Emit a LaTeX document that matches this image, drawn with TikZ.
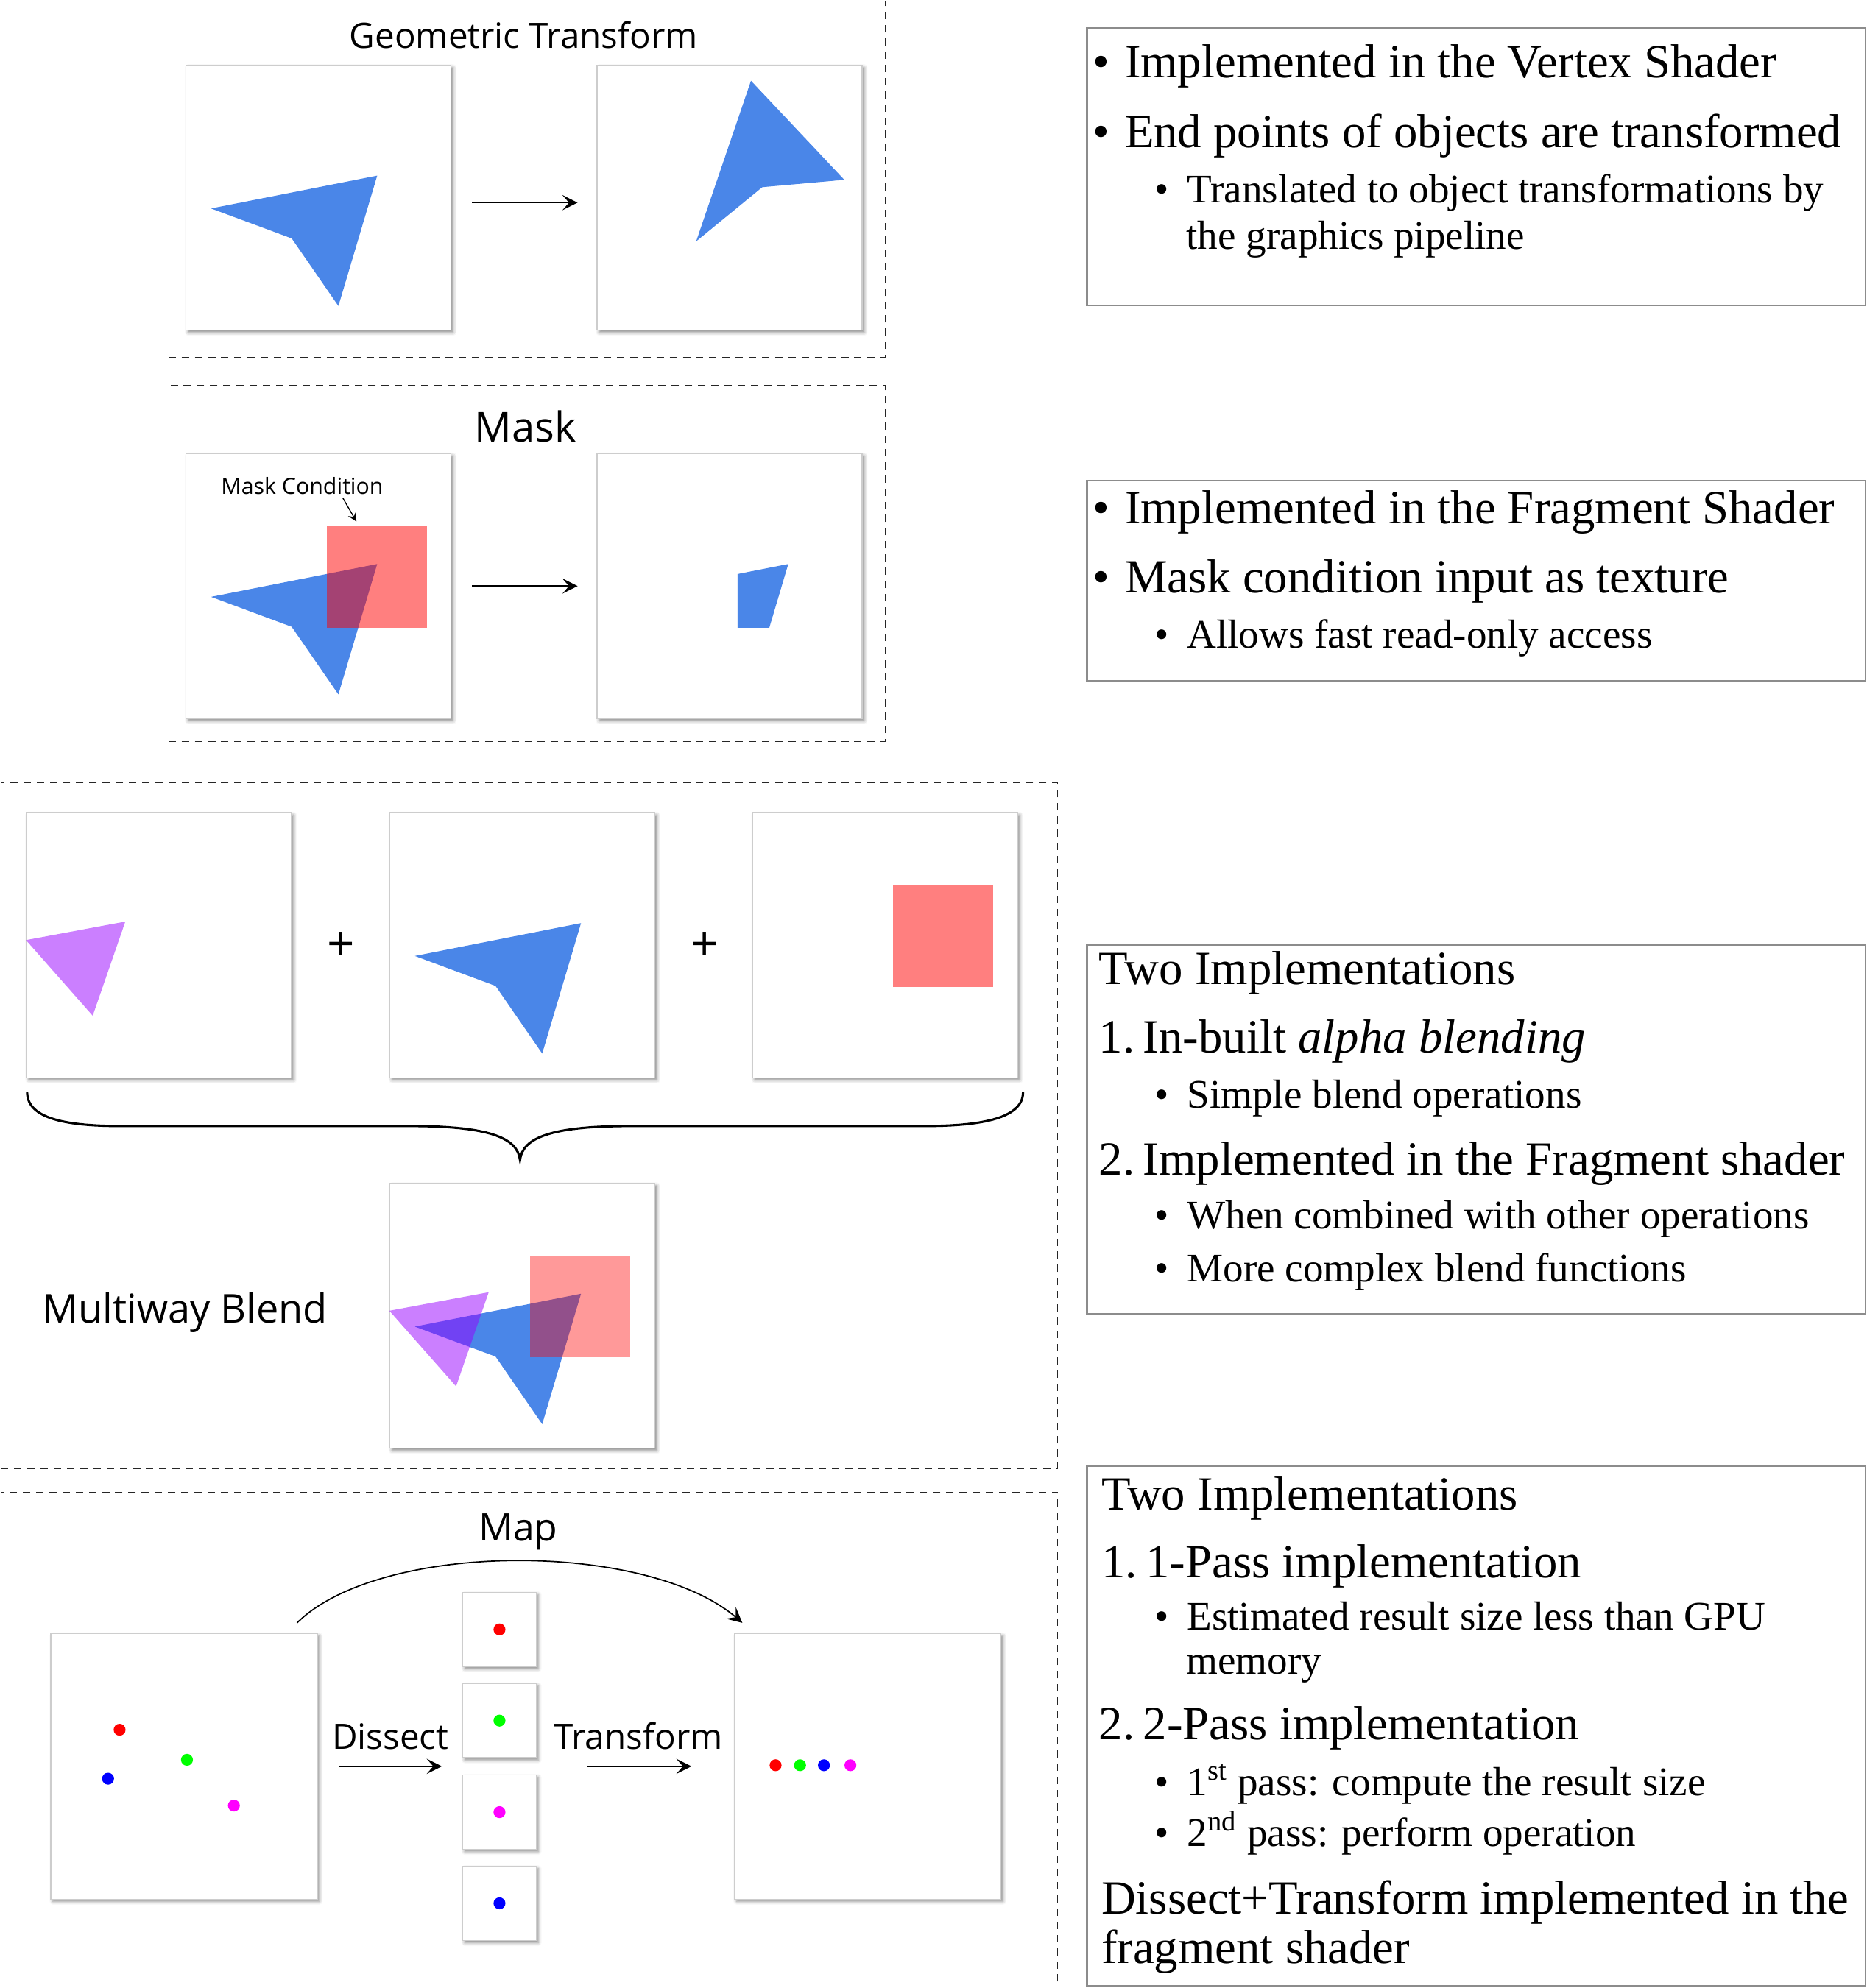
\documentclass[tikz,border=0pt]{standalone}
\usepackage{fontspec}
\setmainfont{Liberation Serif}
\newfontfamily\osans{Open Sans}
\usepackage{tikz}
\usetikzlibrary{arrows.meta,shadows.blur}

\definecolor{ptblue}{RGB}{74,134,232}
\definecolor{ptpurple}{RGB}{153,0,255}
\definecolor{boxgray}{RGB}{205,205,205}
\definecolor{dotmag}{RGB}{255,0,255}
\definecolor{dotgreen}{RGB}{0,255,0}

\newcommand{\bigbul}{\makebox[0.68em][l]{\textbullet}}
\newcommand{\smbul}{\makebox[0.8em][l]{\textbullet}}
\newcommand{\numgap}{\hspace{0.18em}}
\newcommand{\bigsz}{\fontsize{18.8}{22}\selectfont}
\newcommand{\smsz}{\fontsize{16}{19}\selectfont}

\begin{document}
\begin{tikzpicture}[x=0.5pt,y=0.5pt,yscale=-1,xscale=1,
    imgbox/.style={draw=boxgray, fill=white, line width=0.4pt, inner sep=0pt, anchor=north west,
        minimum width=104.5pt, minimum height=104.5pt,
        blur shadow={shadow xshift=0.8pt, shadow yshift=-0.9pt, shadow blur radius=1.3pt, shadow opacity=45}},
    smallbox/.style={imgbox, minimum width=29pt, minimum height=29.3pt},
    panel/.style={draw=black!85, line width=0.35pt, dash pattern=on 2.9pt off 2.3pt},
    txtbox/.style={draw=black!45, line width=0.7pt},
    arr/.style={-{Stealth[length=6pt,width=6pt,inset=2.6pt]}, line width=0.5pt},
    arrs/.style={-{Stealth[length=3.5pt,width=3.5pt,inset=1.4pt]}, line width=0.4pt},
    lbl/.style={inner sep=0pt, font=\osans\fontsize{13.8}{16}\selectfont},
    bline/.style={anchor=base west, inner sep=0pt, font=\bigsz},
    sline/.style={anchor=base west, inner sep=0pt, font=\smsz},
    pics/pointer/.style={code={\begin{scope}[yscale=-1]
        \fill[ptblue] (20.1,113.4) -- (151.1,87.5) -- (120.5,190.3) -- (83.7,137) -- cycle;
        \end{scope}}},
    pics/pointerB/.style={code={\begin{scope}[yscale=-1]
        \fill[ptblue] (121.7,12.7) -- (195.3,90.8) -- (130.6,96.6) -- (78.5,139.3) -- cycle;
        \end{scope}}},
    pics/tri/.style={code={\begin{scope}[yscale=-1]
        \fill[ptpurple, fill opacity=0.5] (0,100.9) -- (78.3,86.3) -- (52.6,160.5) -- cycle;
        \end{scope}}},
    pics/redsq/.style={code={\begin{scope}[yscale=-1]
        \fill[red, fill opacity=#1] (111.2,57.5) rectangle (190.1,137.8);
        \end{scope}}},
    pics/maskcut/.style={code={\begin{scope}[yscale=-1]
        \clip (111.2,57.5) rectangle (190.1,137.8);
        \fill[ptblue] (20.1,113.4) -- (151.1,87.5) -- (120.5,190.3) -- (83.7,137) -- cycle;
        \end{scope}}}]
\useasboundingbox (0,0) rectangle (1472,1567.8);

%Dashed panels
\draw[panel] (133,1) rectangle (698,282);
\draw[panel] (133,304) rectangle (698,585);
\draw[panel] (1,617) rectangle (834,1158);
\draw[panel] (1,1177) rectangle (834,1567);

%Text boxes
\draw[txtbox] (857,22) rectangle (1471,241);
\draw[txtbox] (857,379) rectangle (1471,537);
\draw[txtbox] (857,745) rectangle (1471,1036);
\draw[txtbox] (857,1156) rectangle (1471,1566);

%Geometric transform
\node[lbl, anchor=base] (geoTitle) at (413,38) {Geometric Transform};
\node[imgbox] (g1) at (146.3,51) {};
\node[imgbox] (g2) at (470.4,51) {};
\pic at (g1.north west) {pointer};
\pic at (g2.north west) {pointerB};
\coordinate (geoArr) at (413,159.8);
\draw[arr, shorten <=8pt, shorten >=7.5pt] (geoArr -| g1.east) -- (geoArr -| g2.west);

%Mask
\node[lbl, font=\osans\fontsize{16.3}{19}\selectfont, anchor=base] (maskTitle) at (414.2,348.6) {Mask};
\node[imgbox] (m1) at (146.3,357.3) {};
\node[imgbox] (m2) at (470.4,357.3) {};
\pic at (m1.north west) {pointer};
\pic at (m1.north west) {redsq=0.5};
\pic at (m2.north west) {maskcut};
\node[lbl, font=\osans\fontsize{8.8}{11}\selectfont, anchor=base west] (mcond) at (174,389.5) {Mask Condition};
\coordinate (mcTip) at (281,411.3);
\draw[arrs, shorten <=1.5pt] ([xshift=15.25pt]mcond.south) -- (mcTip);
\draw[arr, shorten <=8pt, shorten >=7.5pt] (m1) -- (m2);

%Multiway blend
\node[imgbox] (b1) at (20.5,640.5) {};
\node[imgbox] (b2) at (307,640.5) {};
\node[imgbox] (b3) at (593,640.5) {};
\pic at (b1.north west) {tri};
\pic at (b2.north west) {pointer};
\pic at (b3.north west) {redsq=0.5};
\node[lbl, font=\osans\fontsize{19}{22}\selectfont] (plus1) at (269,746.7) {+};
\node[lbl, font=\osans\fontsize{19}{22}\selectfont] (plus2) at (555.8,746.7) {+};
%Brace
\draw[line width=0.9pt] (21.4,861.4) .. controls (21.4,883) and (55,888) .. (95,888) -- (322,888)
    .. controls (385,888) and (408,897) .. (410,914.8)
    .. controls (412,897) and (435,888) .. (498,888) -- (729,888)
    .. controls (770,888) and (806.6,883) .. (806.6,861.4);
\node[imgbox] (b4) at (307,932.8) {};
\pic at (b4.north west) {pointer};
\pic at (b4.north west) {tri};
\pic at (b4.north west) {redsq=0.4};
\node[lbl, font=\osans\fontsize{15.7}{19}\selectfont, anchor=base west] (blendTitle) at (33,1043.4) {Multiway Blend};

%Map
\node[lbl, font=\osans\fontsize{15}{18}\selectfont, anchor=base] (mapTitle) at (408.6,1215.4) {Map};
\node[imgbox, minimum width=105pt, minimum height=104.75pt] (mL) at (39.7,1287.8) {};
\node[imgbox, minimum width=105pt, minimum height=104.75pt] (mR) at (578.8,1287.8) {};
\node[smallbox] (s1) at (364.4,1255.3) {};
\node[smallbox] (s2) at (364.4,1327.2) {};
\node[smallbox] (s3) at (364.4,1399.4) {};
\node[smallbox] (s4) at (364.4,1471.3) {};
\fill[red] (94.3,1364.1) circle[radius=4.7];
\fill[dotgreen] (147.4,1387.8) circle[radius=4.7];
\fill[blue] (85.2,1402.7) circle[radius=4.7];
\fill[dotmag] (184.4,1423.9) circle[radius=4.7];
\fill[red] (s1.center) circle[radius=4.7];
\fill[dotgreen] (s2.center) circle[radius=4.7];
\fill[dotmag] (s3.center) circle[radius=4.7];
\fill[blue] (s4.center) circle[radius=4.7];
\fill[red] (611.5,1392.1) circle[radius=4.7];
\fill[dotgreen] (630.8,1392.1) circle[radius=4.7];
\fill[blue] (649.6,1392.1) circle[radius=4.7];
\fill[dotmag] (670.5,1392.1) circle[radius=4.7];
\node[lbl, anchor=base] (dissect) at (307.7,1379.5) {Dissect};
\node[lbl, anchor=base] (transf) at (503.3,1379.5) {Transform};
\draw[arr, shorten <=8.3pt, shorten >=8pt] (mL.east) -- (mL.east -| s1.west);
\draw[arr, shorten <=19.8pt, shorten >=16.8pt] (mL.east -| s1.east) -- (mR.west);
\coordinate (mapS) at (234.2,1279.8);
\coordinate (mapE) at (585.3,1279.8);
\draw[arr] (mapS) .. controls (300,1215) and (510,1215) .. (mapE);

%Text: vertex shader
\node[bline] (va) at (861,61) {\bigbul Implemented in the Vertex Shader};
\node[bline] (vb) at (861,116.3) {\bigbul End points of objects are transformed};
\node[sline] (vc) at (910,159.7) {\smbul Translated to object transformations by};
\node[sline] (vd) at (935,196.2) {the graphics pipeline};

%Text: fragment shader
\node[bline] (fa) at (861,413.1) {\bigbul Implemented in the Fragment Shader};
\node[bline] (fb) at (861,467.3) {\bigbul Mask condition input as texture};
\node[sline] (fc) at (910,510.8) {\smbul Allows fast read-only access};

%Text: blend
\node[bline] (ba) at (866,776.6) {Two Implementations};
\node[bline] (bb) at (866,830.6) {1.\numgap In-built \textit{alpha blending}};
\node[sline] (bc) at (910,873.9) {\smbul Simple blend operations};
\node[bline] (bd) at (866,926.8) {2.\numgap Implemented in the Fragment shader};
\node[sline] (be) at (910,969.2) {\smbul When combined with other operations};
\node[sline] (bf) at (910,1010.6) {\smbul More complex blend functions};

%Text: map
\node[bline] (pa) at (868,1190.7) {Two Implementations};
\node[bline] (pb) at (868,1244) {1.\numgap 1-Pass implementation};
\node[sline] (pc) at (910,1285.4) {\smbul Estimated result size less than GPU};
\node[sline] (pd) at (935,1320.1) {memory};
\node[bline] (pe) at (866,1372.1) {2.\numgap 2-Pass implementation};
\node[sline] (pf) at (910,1416.2) {\smbul 1\textsuperscript{st} pass: compute the result size};
\node[sline] (pg) at (910,1456.2) {\smbul 2\textsuperscript{nd} pass: perform operation};
\node[bline] (ph) at (868,1509.6) {Dissect+Transform implemented in the};
\node[bline] (pi) at (868,1548.3) {fragment shader};
\end{tikzpicture}
\end{document}
